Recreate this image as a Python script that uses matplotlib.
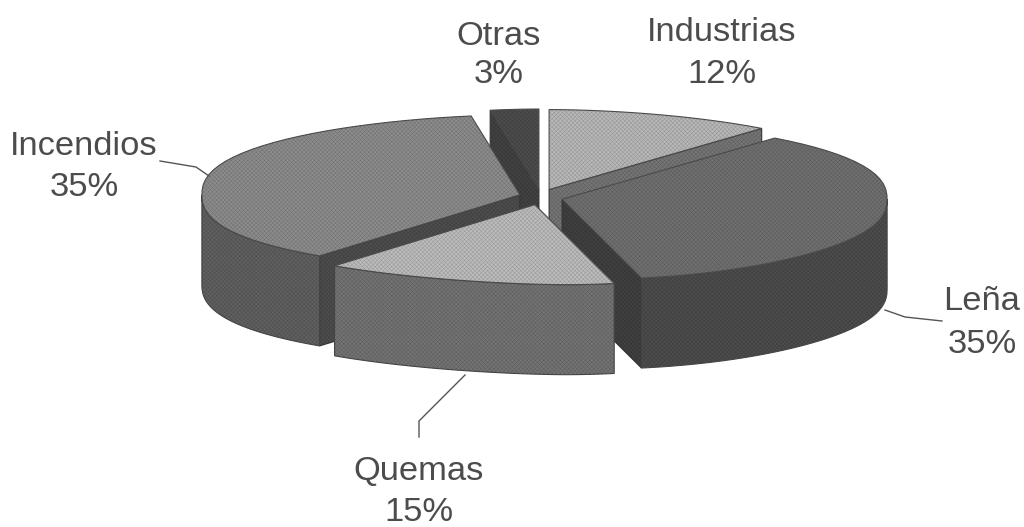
import numpy as np
import matplotlib
matplotlib.use("Agg")
import matplotlib.pyplot as plt
from matplotlib.patches import Polygon

# order round the pie, clockwise from 12 o'clock
names = ["Industrias", "Leña", "Quemas", "Incendios", "Otras"]
values = [12, 35, 15, 35, 3]

top_colors = ["#b8b8b8", "#707070", "#bcbcbc", "#8c8c8c", "#4c4c4c"]
arc_colors = ["#747474", "#4c4c4c", "#737373", "#606060", "#3f3f3f"]
wall_colors = ["#757575", "#404040", "#5e5e5e", "#4d4d4d", "#424242"]

# baselines of the two label lines
name_pos = [(722, 41), (982, 310), (419, 480), (84, 155), (499, 45)]
pct_pos = [(722, 83), (982, 353), (419, 521), (84, 196), (499, 83)]
leaders = [None,
           [(885, 310), (905, 317), (942, 321)],
           [(465, 375), (419, 421), (419, 437)],
           [(160, 161), (196, 167), (209, 176)],
           None]

cx, cy = 541, 197
rx_right, rx_left, ry = 325, 318, 80
depth = 90
ex, ey = 22, 8
front_shift = 32

plt.rcParams['font.family'] = ['Liberation Sans', 'DejaVu Sans']
plt.rcParams['hatch.linewidth'] = 0.35
fig = plt.figure(figsize=(10.24, 5.27), dpi=100)
ax = fig.add_axes([0, 0, 1, 1])
ax.set_xlim(0, 1024)
ax.set_ylim(527, 0)
ax.axis('off')


def rim(t):
    s = np.sin(t)
    c = np.cos(t)
    rx = np.where(s > 0, rx_right, rx_left)
    x = rx * np.sign(s) * np.abs(s) ** 1.12 + front_shift * np.clip(-c, 0, 1) ** 4.5
    y = -ry * np.sign(c) * np.abs(c) ** 0.85
    return x, y


def face(pts, color, edge):
    # speckle from a fine hatch, then a separate outline
    ax.add_patch(Polygon(pts, fc=color, ec="#00000030", hatch="xxxxxxxx", lw=0, zorder=1))
    ax.add_patch(Polygon(pts, fc="none", ec=edge, lw=0.8, zorder=1))


edges = np.cumsum([0] + values) / sum(values) * 2 * np.pi
slices = []
for i in range(len(values)):
    slices.append((edges[i], edges[i + 1], i))
# back slices first
slices.sort(key=lambda a: -np.cos((a[0] + a[1]) / 2))

for t0, t1, i in slices:
    mid = (t0 + t1) / 2
    tx = cx + ex * np.sin(mid)
    ty = cy - ey * np.cos(mid)
    ts = np.linspace(t0, t1, 40)
    dx, dy = rim(ts)
    xs = tx + dx
    ys = ty + dy

    # radial walls, only the ones facing down toward the viewer
    if np.sin(t1) > 0.001:
        face([(tx, ty), (xs[-1], ys[-1]), (xs[-1], ys[-1] + depth), (tx, ty + depth)], wall_colors[i], "#333333")
    if np.sin(t0) < -0.001:
        face([(tx, ty), (xs[0], ys[0]), (xs[0], ys[0] + depth), (tx, ty + depth)], wall_colors[i], "#333333")

    # outer side, front half of the rim only
    a = max(t0, np.pi / 2)
    b = min(t1, 3 * np.pi / 2)
    if b > a:
        tf = np.linspace(a, b, 40)
        fx, fy = rim(tf)
        fx = tx + fx
        fy = ty + fy
        face(list(zip(fx, fy)) + list(zip(fx[::-1], fy[::-1] + depth)), arc_colors[i], "#444444")

    face([(tx, ty)] + list(zip(xs, ys)), top_colors[i], "#4a4a4a")

for i in range(len(names)):
    ax.text(name_pos[i][0], name_pos[i][1], names[i], ha='center', va='baseline',
            fontsize=24.8, color="#4c4c4c")
    ax.text(pct_pos[i][0], pct_pos[i][1], "%d%%" % values[i], ha='center', va='baseline',
            fontsize=24.8, color="#4c4c4c")
    if leaders[i] is not None:
        ax.plot([p[0] for p in leaders[i]], [p[1] for p in leaders[i]], color="#555555", lw=1)

fig.savefig("out.png", dpi=100)
